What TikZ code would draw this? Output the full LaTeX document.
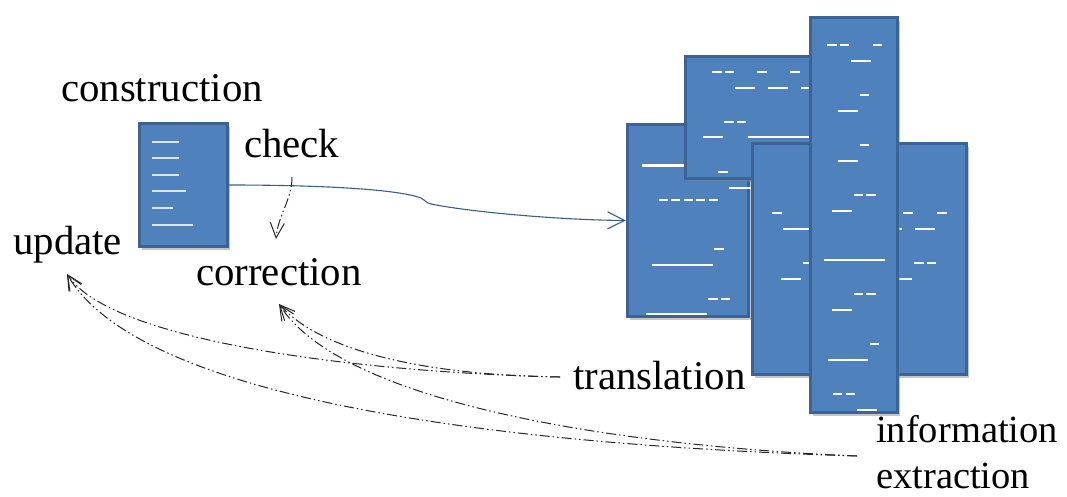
\documentclass[tikz,border=0pt]{standalone}
\usepackage{fontspec}
\setmainfont{Liberation Serif}
\usetikzlibrary{arrows.meta,shadows}
\definecolor{boxfill}{HTML}{4F81BD}
\definecolor{boxedge}{HTML}{3A6396}
\definecolor{arrblue}{HTML}{3A5D8F}
\definecolor{thinw}{HTML}{DCE6F2}
\newcommand\wln[3]{\draw[wline] (#2,#1) -- (#3,#1);}
\newcommand\tln[3]{\draw[tline] (#2,#1) -- (#3,#1);}
\tikzset{
  bx/.style={draw=boxedge, fill=boxfill, line width=3.4pt, rectangle, inner sep=0pt,
     drop shadow={opacity=0.45, shadow xshift=2.5pt, shadow yshift=-3.5pt}},
  wline/.style={draw=white, line width=2.6pt},
  tline/.style={draw=thinw, line width=1.3pt},
  lbl/.style={inner sep=0pt, font=\fontsize{40.8}{48}\selectfont},
  lbls/.style={inner sep=0pt, font=\fontsize{38.5}{47}\selectfont},
  vtip/.style={-{Straight Barb[length=15pt,width=14pt,line width=1pt]}},
  dd/.style={draw=black!85, line width=1pt, vtip,
     dash pattern=on 10pt off 3pt on 1.5pt off 3pt on 1.5pt off 3pt},
  bluearr/.style={draw=arrblue, line width=1.1pt,
     -{Straight Barb[length=17pt,width=17pt,line width=1.1pt]}}
}
\begin{document}
\begin{tikzpicture}[x=1pt,y=-1pt]
\useasboundingbox (0,0) rectangle (1067,496);
% small document box
\node[bx, minimum width=88pt, minimum height=123pt] (doc) at (183.5,185) {};
\tln{142}{152}{179}
\tln{158}{152}{179}
\tln{175}{152}{179}
\tln{191}{152}{186}
\tln{208}{152}{173}
\tln{225}{152}{193}
% box A
\node[bx, minimum width=121pt, minimum height=192pt] (A) at (688,220.5) {};
\wln{165.5}{642}{700}
\wln{188}{729}{760}
\wln{200}{659}{668} \wln{200}{671}{680} \wln{200}{684}{693} \wln{200}{696}{705} \wln{200}{709}{718}
\wln{249}{714}{724}
\wln{265}{652}{713}
\wln{299}{708}{718} \wln{299}{721}{730}
\wln{314}{646}{707}
% box B
\node[bx, minimum width=174pt, minimum height=122pt] (B) at (772.5,117.5) {};
\wln{72}{712}{722} \wln{72}{725}{734} \wln{72}{757}{767} \wln{72}{790}{800}
\wln{88}{735}{755} \wln{88}{768}{788} \wln{88}{801}{830}
\wln{122}{724}{734} \wln{122}{737}{746}
\wln{137}{703}{723} \wln{137}{748}{830}
\wln{172}{718}{728}
% box C
\node[bx, minimum width=214pt, minimum height=231pt] (C) at (859.5,259) {};
\wln{213}{772}{782} \wln{213}{903}{913} \wln{213}{937}{947}
\wln{229}{783}{830} \wln{229}{890}{902} \wln{229}{915}{935}
\wln{263}{803}{830} \wln{263}{914}{924} \wln{263}{927}{936}
\wln{279}{781}{801} \wln{279}{880}{912}
% box D
\node[bx, minimum width=87pt, minimum height=395pt] (D) at (854,215) {};
\wln{45}{827}{837} \wln{45}{840}{849} \wln{45}{873}{882}
\wln{61}{851}{871}
\wln{95}{860}{869}
\wln{111}{838}{858}
\wln{145}{860}{869}
\wln{161}{838}{858}
\wln{195}{854}{863} \wln{195}{866}{876}
\wln{211}{832}{852}
\wln{260}{824}{885}
\wln{294}{854}{863} \wln{294}{866}{876}
\wln{310}{832}{852}
\wln{344}{870}{879}
\wln{360}{828}{868}
\wln{394}{833}{842} \wln{394}{846}{855}
\wln{410}{857}{877}
% labels
\node[lbl, anchor=base west] (construction) at (61,101) {construction};
\node[lbl, anchor=base west] (check) at (244,157) {check};
\node[lbl, anchor=base west] (update) at (13,254) {update};
\node[lbl, anchor=base west] (correction) at (196,285) {correction};
\node[lbl, anchor=base west] (translation) at (573,389) {translation};
\node[lbls, anchor=base west] (information) at (876,442) {information};
\node[lbls, anchor=base west] (extraction) at (876,488) {extraction};
% connector end points
\coordinate (trs) at (560,377);
\coordinate (ies) at (857,456);
\coordinate (updtip) at (67,274);
\coordinate (cortip) at (279,304);
\coordinate (chks) at (292,177);
\coordinate (chktip) at (276,239);
% connectors
\draw[bluearr] (doc.east) .. controls (330,185) and (400,190) .. (421,198)
   .. controls (425,200) and (426,203) .. (431,204)
   .. controls (470,212) and (560,220) .. (A.west);
\draw[dd] (chks) .. controls (292,200) and (278,215) .. (chktip);
\draw[dd] (trs) .. controls (350,372) and (110,340) .. (updtip);
\draw[dd] (trs) .. controls (420,375) and (320,350) .. (cortip);
\draw[dd] (ies) .. controls (600,445) and (340,400) .. (cortip);
\draw[dd] (ies) .. controls (500,445) and (140,400) .. (updtip);
\end{tikzpicture}
\end{document}
